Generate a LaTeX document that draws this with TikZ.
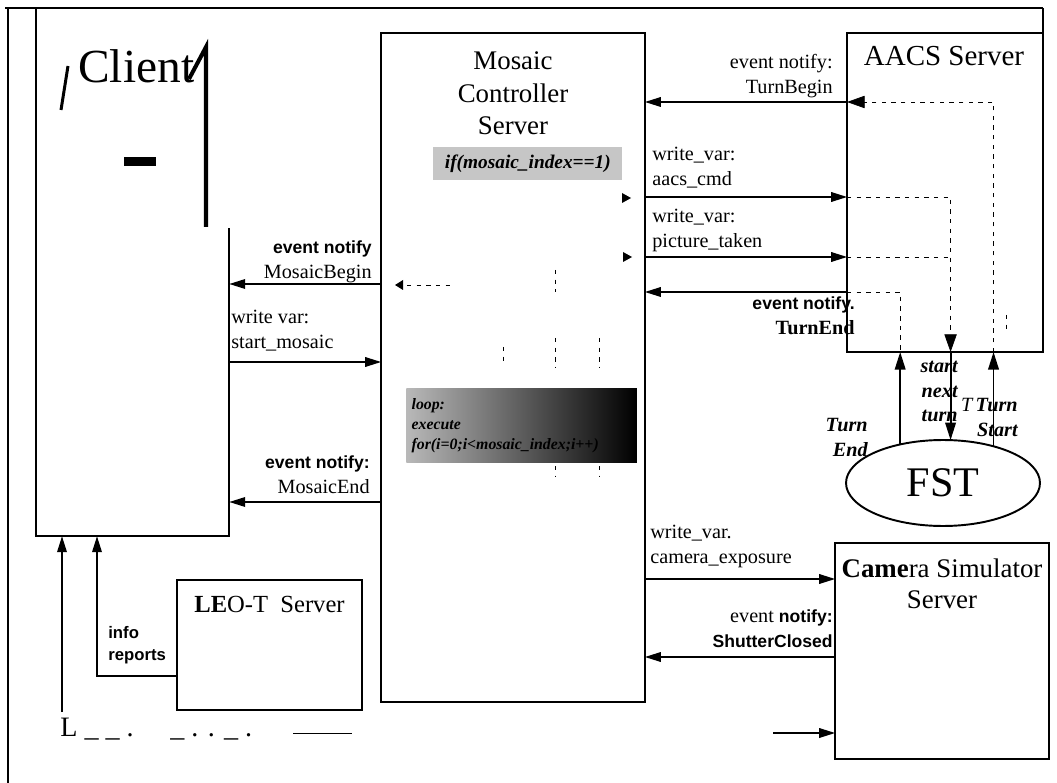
\documentclass[tikz,border=0pt]{standalone}
\usepackage{fontspec}
\setmainfont{Liberation Serif}
\setsansfont{Liberation Sans}
\usetikzlibrary{arrows.meta,shapes.geometric}
\newcommand{\evtxt}[1]{{\sffamily\bfseries\fontsize{10}{14.2}\selectfont #1}}

\begin{document}
\begin{tikzpicture}[x=0.02cm, y=-0.02cm,
    box/.style={draw, line width=1.1pt, inner sep=0pt, outer sep=0pt},
    title/.style={inner sep=0pt, font=\fontsize{15.3}{18.7}\selectfont},
    lbl/.style={inner sep=0pt, font=\fontsize{11.5}{14.2}\selectfont},
    tlbl/.style={inner sep=0pt, align=right, font=\bfseries\itshape\fontsize{11.5}{14}\selectfont},
    msg/.style={line width=0.7pt, -{Triangle[length=9pt,width=5.5pt]}},
    turn/.style={line width=1.1pt, -{Triangle[length=10pt,width=6pt]}},
    flow/.style={line width=0.4pt, dash pattern=on 2.5pt off 3pt}]
      \useasboundingbox (0,0) rectangle (1057,783);
      % frame
      \draw[line width=1.6pt] (5,8) -- (1043,8);
      \draw[line width=1.6pt] (8,8) -- (8,783);
      \draw[line width=1.6pt] (1043,8) -- (1043,352);
      % servers
      \node[box, minimum width=5.28cm, minimum height=13.38cm] (mcs) at (513,367.5) {};
      \node[box, minimum width=3.92cm, minimum height=6.38cm] (aacs) at (945,192.5) {};
      \node[box, minimum width=3.70cm, minimum height=2.60cm] (leo) at (269.5,645) {};
      \node[box, minimum width=4.28cm, minimum height=4.32cm] (cam) at (942,651) {};
      \node[box, ellipse, minimum width=3.88cm, minimum height=1.72cm,
            font=\fontsize{24}{24}\selectfont] (fst) at (943,483) {FST};
      % client, open at the top
      \node[inner sep=0pt, minimum width=3.86cm, minimum height=10.56cm] (client) at (132.5,272) {};
      \draw[line width=1.1pt] (client.north west) -- (client.south west)
        -- (client.south east) -- (client.east |- 0,228);
      \node[anchor=base west, inner sep=0pt, font=\fontsize{27}{30}\selectfont] (clientname) at (78,83) {Client};
      \draw[line width=1.7pt] (61,110) -- (68,66);
      \draw[line width=2.3pt] (189,79) -- (206,47) -- (206,227);
      \fill (124,157) rectangle (156,166);
      % titles
      \node[title, anchor=north, align=center] (mcsname) at (513,51) {Mosaic\\Controller\\Server};
      \node[title, anchor=base, font=\fontsize{16.5}{18.7}\selectfont] (aacsname) at (944,66) {AACS Server};
      \node[title, anchor=base west, font=\fontsize{14}{16}\selectfont] (leoname) at (194,612) {\textbf{LE}O-T\ \ Server};
      \node[title, anchor=north, align=center, font=\fontsize{15.3}{18}\selectfont] (camname) at (942,558) {\textbf{Came}ra Simulator\\Server};
      % blocks inside the mosaic controller
      \node[anchor=north west, minimum width=3.78cm, minimum height=0.66cm, inner sep=0pt, fill=gray!45,
            font=\bfseries\itshape\fontsize{11}{12}\selectfont] (ifcond) at (433,147) {if(mosaic\_index==1)};
      \node[anchor=north west, minimum width=4.58cm, minimum height=1.48cm, inner sep=3pt, text width=4.4cm,
            align=left, left color=gray!55, right color=black,
            font=\bfseries\itshape\fontsize{9}{11.3}\selectfont] (loopbox) at (406,388) {loop:\\execute\\for(i=0;i<mosaic\_index;i++)};
      \fill (622,193) -- (631,198) -- (622,203) -- cycle;
      \fill (623,252) -- (632,257) -- (623,262) -- cycle;
      \fill (403,280) -- (395,285) -- (403,290) -- cycle;
      \draw[flow] (407,285) -- (450,285);
      \draw[flow] (555,270) -- (555,292);
      \draw[flow] (555,338) -- (555,368);
      \draw[flow] (599,338) -- (599,368);
      \draw[flow] (503,347) -- (503,362);
      \draw[flow] (555,466) -- (555,476);
      \draw[flow] (599,466) -- (599,476);
      % client <-> mosaic controller
      \node[lbl, anchor=north east, align=right] (mbeginlbl) at (372,240) {\evtxt{event notify}\\MosaicBegin};
      \draw[msg] (mcs.west |- 0,284) -- (client.east |- 0,284);
      \node[lbl, anchor=north west, align=left] (startlbl) at (231,310) {write var:\\start\_mosaic};
      \draw[msg] (client.east |- 0,362) -- (mcs.west |- 0,362);
      \node[lbl, anchor=north east, align=right] (mendlbl) at (370,455) {\evtxt{event notify:}\\MosaicEnd};
      \draw[msg] (mcs.west |- 0,502) -- (client.east |- 0,502);
      % mosaic controller <-> aacs
      \node[lbl, anchor=north east, align=right] (tbeginlbl) at (833,54) {event notify:\\TurnBegin};
      \draw[msg] (aacs.west |- 0,102) -- (mcs.east |- 0,102);
      \node[lbl, anchor=north west, align=left] (cmdlbl) at (652,147) {write\_var:\\aacs\_cmd};
      \draw[msg] (mcs.east |- 0,197) -- (aacs.west |- 0,197);
      \node[lbl, anchor=north west, align=left] (piclbl) at (652,209) {write\_var:\\picture\_taken};
      \draw[msg] (mcs.east |- 0,257) -- (aacs.west |- 0,257);
      \draw[msg] (aacs.west |- 0,292) -- (mcs.east |- 0,292);
      \node[lbl, anchor=north east, align=right] (tendlbl) at (855,296) {\evtxt{event notify.}\\\textbf{TurnEnd}};
      % flows inside aacs
      \draw[flow, -{Triangle[length=10pt,width=7pt]}] (aacs.south -| fst.36) |- (aacs.west |- 0,102);
      \draw[flow, -{Triangle[length=10pt,width=7pt]}] (aacs.west |- 0,197) -| (aacs.south -| fst.80);
      \draw[flow] (aacs.west |- 0,257) -- (fst.80 |- 0,257);
      \draw[flow] (aacs.west |- 0,292) -| (aacs.south -| fst.138);
      \draw[flow] (1006,315) -- (1006,332);
      % aacs <-> fst
      \draw[turn] (fst.138) -- (aacs.south -| fst.138);
      \draw[turn] (aacs.south -| fst.80) -- (fst.80);
      \draw[turn] (fst.36) -- (aacs.south -| fst.36);
      \node[tlbl, anchor=north east] (nextlbl) at (958,361) {start\\next\\turn};
      \node[tlbl, anchor=north east] (endlbl) at (868,418) {Turn\\End};
      \node[tlbl, anchor=north east] (tstartlbl) at (1018,398) {{\mdseries T\,}Turn\\Start};
      % mosaic controller <-> camera
      \node[lbl, anchor=north west, align=left] (explbl) at (650,525) {write\_var.\\camera\_exposure};
      \draw[msg] (mcs.east |- 0,579) -- (cam.west |- 0,579);
      \node[lbl, anchor=north east, align=right] (shutlbl) at (833,609) {event \evtxt{notify:}\\\evtxt{ShutterClosed}};
      \draw[msg] (cam.west |- 0,657) -- (mcs.east |- 0,657);
      \coordinate (camin) at (773,733);
      \draw[msg] (camin) -- (cam.west |- camin);
      % leo-t and the bottom line
      \node[anchor=north west, align=left, inner sep=0pt,
            font=\sffamily\bfseries\fontsize{9.5}{12.5}\selectfont] (infolbl) at (108,626) {info\\reports};
      \draw[msg] (leo.west |- 0,676) -| (97,0 |- client.south);
      \coordinate (lcorner) at (62,712);
      \draw[msg] (lcorner) -- (lcorner |- client.south);
      \node[anchor=base west, inner sep=0pt, font=\fontsize{16}{16}\selectfont] (trail) at (60,736) {L \_ \_ .\hspace{1.3em}\_ . . \_ .};
      \coordinate (tailA) at (293,733);
      \coordinate (tailB) at (352,733);
      \draw[line width=0.5pt] (tailA) -- (tailB);
\end{tikzpicture}
\end{document}
